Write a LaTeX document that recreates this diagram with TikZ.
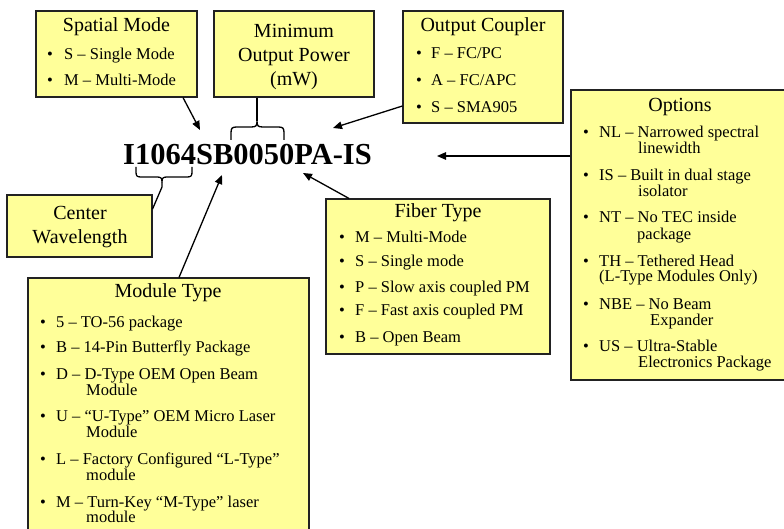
\documentclass[tikz,border=0pt]{standalone}
\usepackage{fontspec}
\setmainfont{Liberation Serif}
\usetikzlibrary{arrows.meta}
\definecolor{boxfill}{HTML}{FFFF99}
\definecolor{boxline}{HTML}{222222}
\begin{document}
\begin{tikzpicture}[x=1pt,y=-1pt,
  box/.style={draw=boxline, fill=boxfill, line width=1.1pt, inner sep=0pt},
  ttl/.style={font=\fontsize{20}{24}\selectfont, anchor=base, inner sep=0pt},
  itm/.style={font=\fontsize{16.5}{19}\selectfont, anchor=base west, inner sep=0pt},
  bul/.style={font=\fontsize{16.5}{19}\selectfont, anchor=base, inner sep=0pt},
  arr/.style={line width=1.3pt, -{Triangle[length=9pt,width=7.5pt]}},
  brc/.style={line width=1.3pt, line join=round}]
\useasboundingbox (0,0) rectangle (784,529);

% boxes
\node[box, minimum width=161pt, minimum height=86pt] (spatial) at (116.5,54) {};
\node[box, minimum width=160pt, minimum height=86pt] (power) at (294,54) {};
\node[box, minimum width=160pt, minimum height=112pt] (coupler) at (483,67) {};
\node[box, minimum width=221pt, minimum height=290pt] (options) at (681.5,235) {};
\node[box, minimum width=224pt, minimum height=155pt] (fiber) at (438,276.5) {};
\node[box, minimum width=145pt, minimum height=62pt] (cw) at (79.5,226) {};
\node[box, minimum width=281pt, minimum height=267pt] (module) at (168.5,411.5) {};

% code
\node[font=\fontsize{30.5}{36}\selectfont\bfseries, anchor=base, inner sep=0pt] (code) at (247.5,165) {I1064SB0050PA-IS};

% Spatial Mode
\node[ttl] (spT) at (116.5,31.6) {Spatial Mode};
\node[bul] (spB1) at (50,59.5) {•};
\node[itm] (sp1) at (64,59.5) {S – Single Mode};
\node[bul] (spB2) at (50,85.5) {•};
\node[itm] (sp2) at (64,85.5) {M – Multi-Mode};

% Minimum Output Power
\node[ttl] (pw1) at (294,37.6) {Minimum};
\node[ttl] (pw2) at (294,61.6) {Output Power};
\node[ttl] (pw3) at (294,85.6) {(mW)};

% Output Coupler
\node[ttl] (ocT) at (483,31.6) {Output Coupler};
\node[bul] (ocB1) at (419,58.5) {•};
\node[itm] (oc1) at (431,58.5) {F – FC/PC};
\node[bul] (ocB2) at (419,85.5) {•};
\node[itm] (oc2) at (431,85.5) {A – FC/APC};
\node[bul] (ocB3) at (419,112.5) {•};
\node[itm] (oc3) at (431,112.5) {S – SMA905};

% Options
\node[ttl] (opT) at (680,112) {Options};
\node[bul] (opB1) at (586,138) {•};
\node[itm] (op1) at (599,138) {NL – Narrowed spectral};
\node[itm] (op1b) at (638,154) {linewidth};
\node[bul] (opB2) at (586,181) {•};
\node[itm] (op2) at (599,181) {IS – Built in dual stage};
\node[itm] (op2b) at (638,197) {isolator};
\node[bul] (opB3) at (586,223) {•};
\node[itm] (op3) at (599,223) {NT – No TEC inside};
\node[itm] (op3b) at (637,240) {package};
\node[bul] (opB4) at (586,266) {•};
\node[itm] (op4) at (599,266) {TH – Tethered Head};
\node[itm] (op4b) at (599,282) {(L-Type Modules Only)};
\node[bul] (opB5) at (586,309) {•};
\node[itm] (op5) at (599,309) {NBE – No Beam};
\node[itm] (op5b) at (650,325) {Expander};
\node[bul] (opB6) at (586,351) {•};
\node[itm] (op6) at (599,351) {US – Ultra-Stable};
\node[itm] (op6b) at (638,367) {Electronics Package};

% Fiber Type
\node[ttl] (fbT) at (438,218) {Fiber Type};
\node[bul] (fbB1) at (342,243) {•};
\node[itm] (fb1) at (355,243) {M – Multi-Mode};
\node[bul] (fbB2) at (342,267) {•};
\node[itm] (fb2) at (355,267) {S – Single mode};
\node[bul] (fbB3) at (342,292) {•};
\node[itm] (fb3) at (355,292) {P – Slow axis coupled PM};
\node[bul] (fbB4) at (342,316) {•};
\node[itm] (fb4) at (355,316) {F – Fast axis coupled PM};
\node[bul] (fbB5) at (342,342) {•};
\node[itm] (fb5) at (355,342) {B – Open Beam};

% Center Wavelength
\node[ttl] (cw1) at (80,220) {Center};
\node[ttl] (cw2) at (80,244) {Wavelength};

% Module Type
\node[ttl] (mtT) at (168,298) {Module Type};
\node[bul] (mtB1) at (43,327) {•};
\node[itm] (mt1) at (56,327) {5 – TO-56 package};
\node[bul] (mtB2) at (43,352) {•};
\node[itm] (mt2) at (56,352) {B – 14-Pin Butterfly Package};
\node[bul] (mtB3) at (43,379) {•};
\node[itm] (mt3) at (56,379) {D – D-Type OEM Open Beam};
\node[itm] (mt3b) at (86,395) {Module};
\node[bul] (mtB4) at (43,421) {•};
\node[itm] (mt4) at (56,421) {U – “U-Type” OEM Micro Laser};
\node[itm] (mt4b) at (86,437) {Module};
\node[bul] (mtB5) at (43,464) {•};
\node[itm] (mt5) at (56,464) {L – Factory Configured “L-Type”};
\node[itm] (mt5b) at (86,480) {module};
\node[bul] (mtB6) at (43,507) {•};
\node[itm] (mt6) at (56,507) {M – Turn-Key “M-Type”  laser};
\node[itm] (mt6b) at (86,522) {module};

% arrow tips
\coordinate (tipSM) at (200,130);
\coordinate (tipOC) at (333,128);
\coordinate (tipOP) at (437,156);
\coordinate (tipFB) at (303,173);
\coordinate (tipMT) at (222,175);
\coordinate (bt1) at (257,121);
\coordinate (bt2) at (162,182);

\draw[arr] ([xshift=66.5pt]spatial.south) -- (tipSM);
\draw[arr] ([yshift=-39pt]coupler.west) -- (tipOC);
\draw[arr] ([yshift=79pt]options.west) -- (tipOP);
\draw[arr] ([xshift=-89pt]fiber.north) -- (tipFB);
\draw[arr] ([xshift=10.5pt]module.north) -- (tipMT);

% braces
\draw[brc] ([xshift=-37pt]power.south) -- (bt1);
\draw[brc] (231,140) -- (231,133) .. controls (231,128) and (232,127) .. (237,127) -- (251,127)
  .. controls (256,127) and (257,126) .. (bt1)
  .. controls (257,126) and (258,127) .. (263,127) -- (278,127)
  .. controls (283,127) and (284,128) .. (284,133) -- (284,140);
\draw[brc] (136,167) -- (136,172) .. controls (136,176) and (137,177) .. (141,177) -- (157,177)
  .. controls (161,177) and (162,178) .. (bt2)
  .. controls (162,178) and (163,177) .. (167,177) -- (187,177)
  .. controls (191,177) and (192,176) .. (192,172) -- (192,167);
\draw[brc] (bt2) -- ++(0,5) -- ([yshift=17pt]cw.east);
\end{tikzpicture}
\end{document}
